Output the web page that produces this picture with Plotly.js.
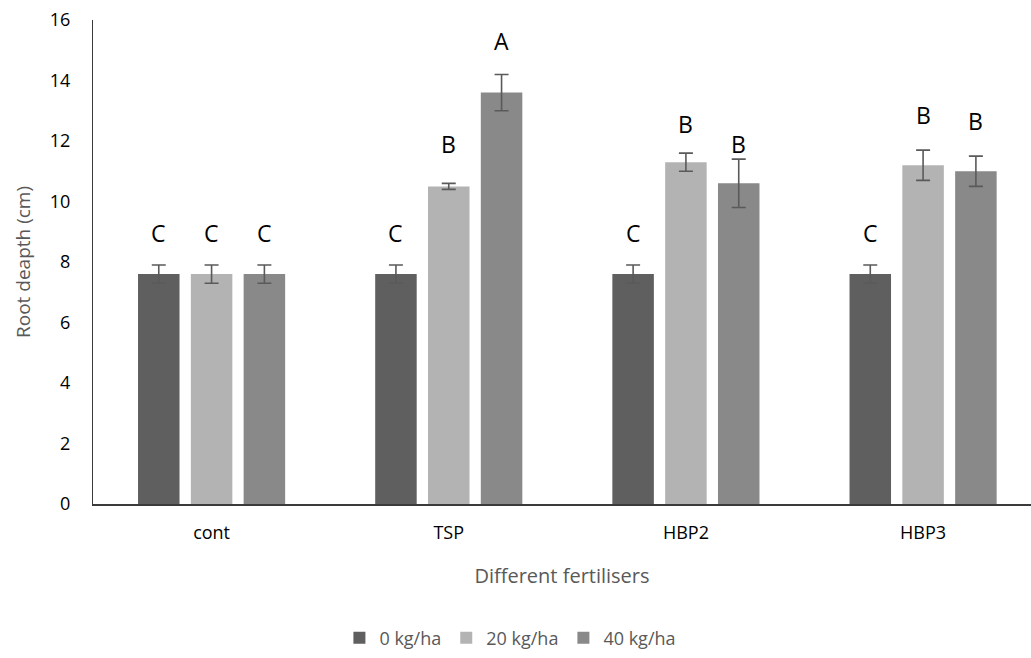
<!DOCTYPE html>
<html>
<head>
<meta charset="utf-8">
<script src="https://cdn.plot.ly/plotly-3.0.1.min.js"></script>
<style>
  html, body { margin: 0; padding: 0; background: #ffffff; }
  #chart { width: 1031px; height: 658px; }
</style>
</head>
<body>
<div id="chart"></div>
<script>
// Fertiliser treatments and application rates
const fertilisers = ["cont", "TSP", "HBP2", "HBP3"];
const rates = ["0 kg/ha", "20 kg/ha", "40 kg/ha"];

// Mean root depth (cm) per rate, across fertilisers
const depth0 = [7.6, 7.6, 7.6, 7.6];
const depth20 = [7.6, 10.5, 11.3, 11.2];
const depth40 = [7.6, 13.6, 10.6, 11.0];

// Standard errors
const err0 = [0.3, 0.3, 0.3, 0.3];
const err20 = [0.3, 0.1, 0.3, 0.5];
const err40 = [0.3, 0.6, 0.8, 0.5];

// Significance letters
const letters0 = ["C", "C", "C", "C"];
const letters20 = ["C", "B", "B", "B"];
const letters40 = ["C", "A", "B", "B"];

const yTicks = [0, 2, 4, 6, 8, 10, 12, 14, 16];

// Drawing settings
const colours = ["#5f5f5f", "#b3b3b3", "#898989"];
const seriesValues = [depth0, depth20, depth40];
const seriesErrors = [err0, err20, err40];
const seriesLetters = [letters0, letters20, letters40];
// heights (cm) at which the letters sit above each bar
const letterHeights = [
  [8.95, 8.95, 8.95, 8.95],
  [8.95, 11.9, 12.55, 12.85],
  [8.95, 15.3, 11.9, 12.65]
];
const barShift = [-52.8, 0, 52.8];

const traces = seriesValues.map((vals, k) => ({
  type: "bar",
  name: rates[k],
  x: fertilisers,
  y: vals,
  marker: { color: colours[k], line: { width: 0 } },
  error_y: {
    type: "data",
    array: seriesErrors[k],
    visible: true,
    color: "#5a5a5a",
    thickness: 1.6,
    width: 7
  },
  hoverinfo: "x+y+name"
}));

const annotations = [];
seriesLetters.forEach((lets, k) => {
  lets.forEach((t, i) => {
    annotations.push({
      x: fertilisers[i],
      y: letterHeights[k][i],
      xref: "x",
      yref: "y",
      text: t,
      showarrow: false,
      xshift: barShift[k],
      xanchor: "center",
      yanchor: "middle",
      font: { family: "Open Sans, sans-serif", size: 23, color: "#000000" }
    });
  });
});

const layout = {
  width: 1031,
  height: 658,
  margin: { l: 93, r: 0, t: 20, b: 154, pad: 0 },
  paper_bgcolor: "#ffffff",
  plot_bgcolor: "#ffffff",
  font: { family: "Open Sans, sans-serif", color: "#000000" },
  barmode: "group",
  bargap: 0.332,
  bargroupgap: 0.214,
  showlegend: true,
  legend: {
    orientation: "h",
    x: 0.445,
    xanchor: "center",
    y: -0.277,
    yanchor: "middle",
    font: { size: 18, color: "#595959" },
    itemwidth: 30,
    traceorder: "normal"
  },
  xaxis: {
    type: "category",
    range: [-0.5, 3.455],
    showline: true,
    linecolor: "#3a3a3a",
    linewidth: 1.5,
    ticks: "",
    ticklabelstandoff: 12,
    showgrid: false,
    zeroline: false,
    tickfont: { size: 18, color: "#000000" },
    title: {
      text: "Different fertilisers",
      font: { size: 20, color: "#595959" },
      standoff: 26
    }
  },
  yaxis: {
    range: [0, 16],
    tickvals: yTicks,
    ticktext: yTicks.map(String),
    showline: true,
    linecolor: "#3a3a3a",
    linewidth: 1,
    ticks: "",
    ticklabelstandoff: 18,
    showgrid: false,
    zeroline: false,
    tickfont: { size: 18, color: "#000000" },
    title: {
      text: "Root deapth (cm)",
      font: { size: 19, color: "#595959" },
      standoff: 14
    }
  },
  annotations: annotations
};

Plotly.newPlot("chart", traces, layout, { displayModeBar: false, staticPlot: true });
</script>
</body>
</html>
